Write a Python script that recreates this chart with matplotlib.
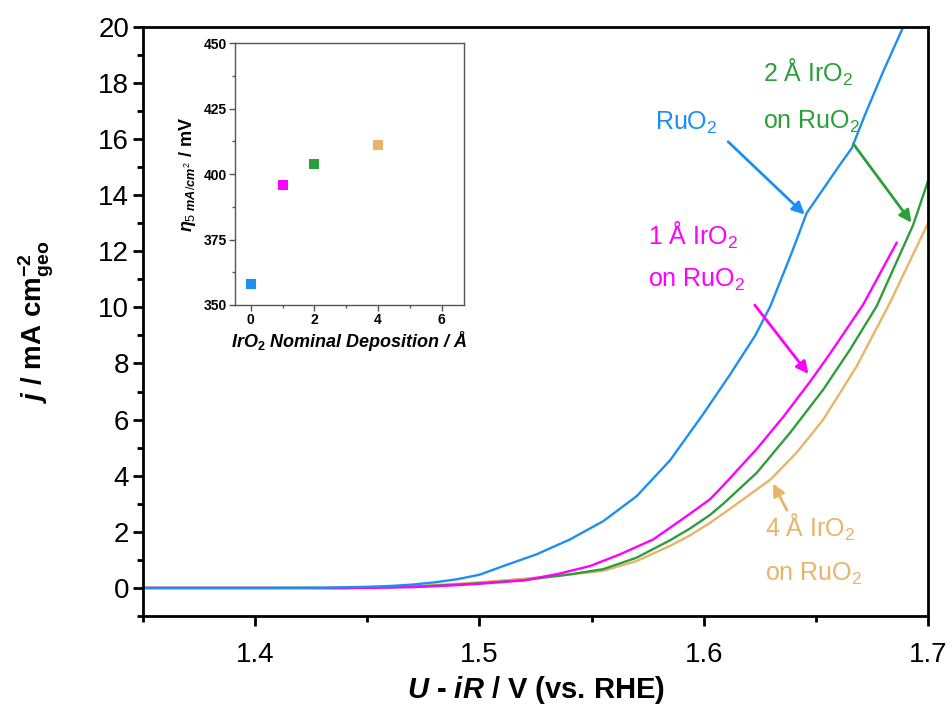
import numpy as np
import matplotlib
matplotlib.use('Agg')
import matplotlib.pyplot as plt
from matplotlib.ticker import MultipleLocator

plt.rcParams['font.family'] = ['Liberation Sans', 'DejaVu Sans']
plt.rcParams['mathtext.fontset'] = 'custom'
plt.rcParams['mathtext.rm'] = 'Liberation Sans'
plt.rcParams['mathtext.it'] = 'Liberation Sans:italic:bold'
plt.rcParams['mathtext.bf'] = 'Liberation Sans:bold'

# ---------------------------------------------------------------------------
# Data
# ---------------------------------------------------------------------------

ru_v = [1.35, 1.40, 1.43, 1.45, 1.46, 1.47, 1.48, 1.49, 1.50, 1.5106,
        1.5255, 1.5404, 1.5552, 1.5701, 1.585, 1.5998, 1.6117, 1.6230,
        1.6297, 1.6395, 1.6459, 1.6540, 1.6600, 1.6660, 1.6719, 1.6800,
        1.6890]
ru_j = [0.0, 0.0, 0.01, 0.04, 0.07, 0.12, 0.20, 0.31, 0.47, 0.78,
        1.20, 1.73, 2.38, 3.27, 4.55, 6.20, 7.60, 9.00,
        10.04, 12.0, 13.36, 14.3, 15.0, 15.67, 16.86, 18.4,
        20.0]

ir1_v = [1.35, 1.40, 1.44, 1.47, 1.49, 1.50, 1.52, 1.535, 1.5493, 1.5627,
         1.5775, 1.5924, 1.6028, 1.6087, 1.6236, 1.6355, 1.6474, 1.6563,
         1.6711, 1.686]
ir1_j = [0.0, 0.0, -0.01, 0.03, 0.10, 0.15, 0.27, 0.50, 0.78, 1.20,
         1.73, 2.56, 3.16, 3.65, 4.95, 6.10, 7.35, 8.35,
         10.1, 12.3]

ir2_v = [1.35, 1.40, 1.44, 1.47, 1.49, 1.50, 1.52, 1.54, 1.5552, 1.5701,
         1.585, 1.5939, 1.6028, 1.6087, 1.6236, 1.6385, 1.6533, 1.6652,
         1.6771, 1.6934, 1.70]
ir2_j = [0.0, 0.0, 0.0, 0.04, 0.12, 0.17, 0.28, 0.48, 0.67, 1.08,
         1.70, 2.12, 2.60, 3.00, 4.10, 5.53, 7.07, 8.49,
         10.04, 12.94, 14.5]

ir4_v = [1.35, 1.40, 1.44, 1.47, 1.49, 1.50, 1.52, 1.54, 1.5552, 1.5701,
         1.585, 1.594, 1.6028, 1.6117, 1.6297, 1.6414, 1.6533, 1.6682,
         1.683, 1.70]
ir4_j = [0.0, 0.0, 0.01, 0.06, 0.15, 0.20, 0.33, 0.48, 0.61, 0.96,
         1.50, 1.88, 2.32, 2.82, 3.86, 4.82, 6.0, 7.9,
         10.16, 13.0]

# inset: overpotential at 5 mA/cm2
dep_x = [0, 1, 2, 4]
eta_y = [358, 396, 404, 411]

C_RU = '#1e8ff0'
C_1A = '#ff00ff'
C_2A = '#2e9e3a'
C_4A = '#e9b46a'
colors = [C_RU, C_1A, C_2A, C_4A]

# ---------------------------------------------------------------------------
# Main plot
# ---------------------------------------------------------------------------

fig = plt.figure(figsize=(9.52, 7.05), dpi=100)
ax = fig.add_axes([0.1502, 0.1262, 0.8246, 0.8359])

ax.plot(ir4_v, ir4_j, color=C_4A, lw=1.7)
ax.plot(ir2_v, ir2_j, color=C_2A, lw=1.7)
ax.plot(ir1_v, ir1_j, color=C_1A, lw=1.7)
ax.plot(ru_v, ru_j, color=C_RU, lw=1.7)

ax.set_xlim(1.35, 1.70)
ax.set_ylim(-1, 20)
ax.xaxis.set_major_locator(MultipleLocator(0.1))
ax.xaxis.set_minor_locator(MultipleLocator(0.05))
ax.yaxis.set_major_locator(MultipleLocator(2))
ax.yaxis.set_minor_locator(MultipleLocator(1))
ax.xaxis.set_major_formatter(plt.FuncFormatter(lambda v, p: '%.1f' % v))

for s in ax.spines.values():
  s.set_linewidth(2.0)
ax.tick_params(which='major', direction='out', length=7, width=2.0,
               labelsize=20, pad=3)
ax.tick_params(which='minor', direction='out', length=4, width=2.0)
ax.tick_params(axis='x', which='major', pad=12)

ax.set_xlabel(r'$U$ - $iR$ / V (vs. RHE)', fontsize=21, fontweight='bold',
              labelpad=4)
ax.set_ylabel(r'$j$ / mA cm$^{\mathbf{-2}}_{\mathbf{geo}}$', fontsize=20,
              fontweight='bold', labelpad=30)

# annotations
fs = 18
arrow = dict(arrowstyle='-|>', lw=2, mutation_scale=18)
ax.text(1.5783, 16.32, r'RuO$_2$', color=C_RU, fontsize=fs, va='baseline')
ax.annotate('', xy=(1.6459, 13.24), xytext=(1.610, 15.97),
            arrowprops=dict(arrow, color=C_RU))

ax.text(1.6264, 18.04, r'2 Å IrO$_2$', color=C_2A, fontsize=fs,
        va='baseline')
ax.text(1.6264, 16.38, r'on RuO$_2$', color=C_2A, fontsize=fs,
        va='baseline')
ax.annotate('', xy=(1.6934, 12.94), xytext=(1.666, 15.9),
            arrowprops=dict(arrow, color=C_2A))

ax.text(1.575, 12.22, r'1 Å IrO$_2$', color=C_1A, fontsize=fs,
        va='baseline')
ax.text(1.575, 10.74, r'on RuO$_2$', color=C_1A, fontsize=fs,
        va='baseline')
ax.annotate('', xy=(1.6474, 7.55), xytext=(1.622, 10.16),
            arrowprops=dict(arrow, color=C_1A))

ax.text(1.6273, 1.83, r'4 Å IrO$_2$', color=C_4A, fontsize=fs,
        va='baseline')
ax.text(1.6273, 0.25, r'on RuO$_2$', color=C_4A, fontsize=fs,
        va='baseline')
ax.annotate('', xy=(1.6303, 3.81), xytext=(1.6377, 2.68),
            arrowprops=dict(arrow, color=C_4A))

# ---------------------------------------------------------------------------
# Inset
# ---------------------------------------------------------------------------

axi = fig.add_axes([0.2468, 0.5674, 0.2405, 0.3712])
for xv, yv, c in zip(dep_x, eta_y, colors):
  axi.plot(xv, yv, 's', color=c, markersize=7, markeredgewidth=0)

axi.set_xlim(-0.5, 6.7)
axi.set_ylim(350, 450)
axi.xaxis.set_major_locator(MultipleLocator(2))
axi.xaxis.set_minor_locator(MultipleLocator(1))
axi.yaxis.set_major_locator(MultipleLocator(25))
axi.yaxis.set_minor_locator(MultipleLocator(12.5))
for s in axi.spines.values():
  s.set_linewidth(1.0)
  s.set_color('#555555')
axi.tick_params(which='major', direction='out', length=4, width=1,
                labelsize=10, pad=2, color='#555555')
axi.tick_params(which='minor', direction='out', length=2, width=1,
                color='#555555')
for lab in axi.get_xticklabels() + axi.get_yticklabels():
  lab.set_fontweight('bold')

axi.set_xlabel(r'IrO$_\mathbf{2}$ Nominal Deposition / Å', fontsize=13,
               fontweight='bold', fontstyle='italic', labelpad=1)
axi.set_ylabel(r'$\eta_{5\ mA/cm^2}$ / mV', fontsize=13,
               fontweight='bold', labelpad=4)

fig.savefig('out.png', dpi=100)
plt.close(fig)
